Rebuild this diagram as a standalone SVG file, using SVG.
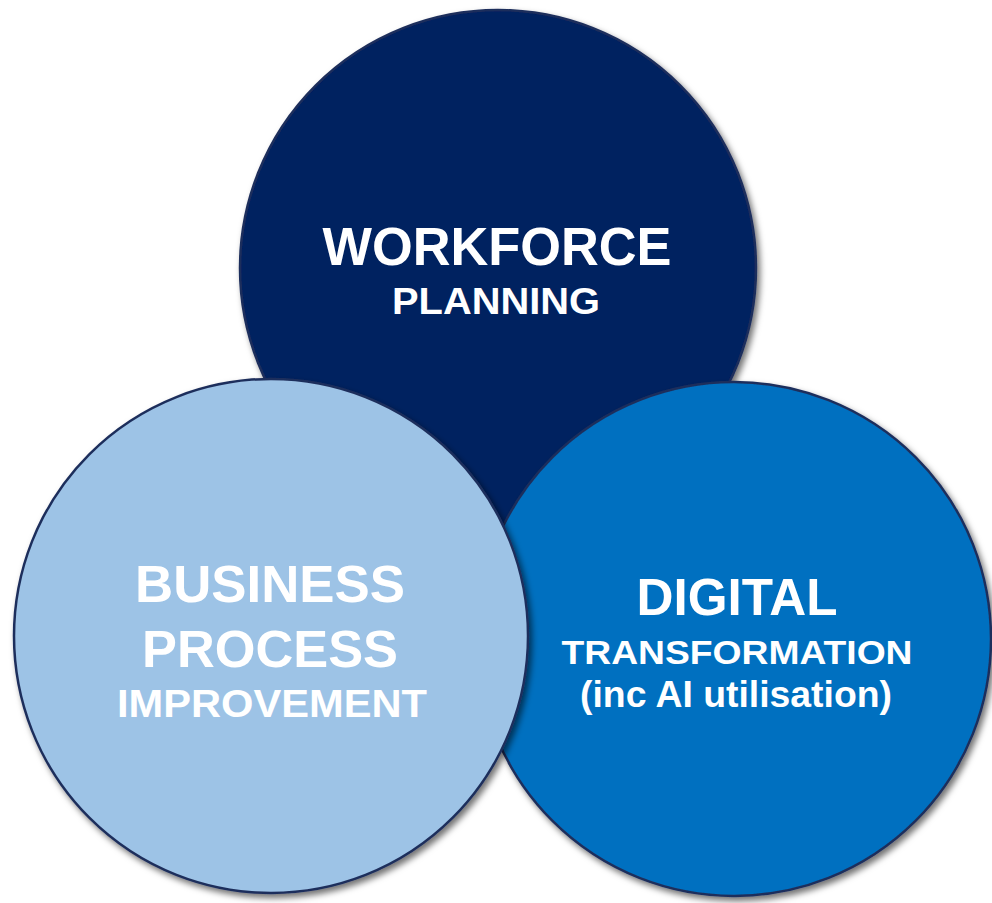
<svg xmlns="http://www.w3.org/2000/svg" width="992" height="903" viewBox="0 0 992 903">
<defs>
<filter id="sh" x="-10%" y="-10%" width="125%" height="125%">
<feDropShadow dx="3" dy="4" stdDeviation="3" flood-color="#000" flood-opacity="0.55"/>
</filter>
</defs>
<style>
.c{stroke:#1F2F5C;stroke-width:2.5;filter:url(#sh)}
.t{font-family:"Liberation Sans",Arial,sans-serif;font-weight:bold;fill:#fff;text-anchor:middle}
</style>
<rect width="992" height="903" fill="#fff"/>
<g id="workforce">
<circle class="c" cx="498" cy="268" r="258" fill="#002060"/>
<text class="t" x="497" y="265" font-size="54" textLength="349" lengthAdjust="spacingAndGlyphs">WORKFORCE</text>
<text class="t" x="496" y="314" font-size="36" textLength="208" lengthAdjust="spacingAndGlyphs">PLANNING</text>
</g>
<g id="digital">
<circle class="c" cx="734" cy="639" r="257" fill="#0070C0"/>
<text class="t" x="737" y="615" font-size="51" textLength="201" lengthAdjust="spacingAndGlyphs">DIGITAL</text>
<text class="t" x="737" y="664" font-size="34" textLength="351" lengthAdjust="spacingAndGlyphs">TRANSFORMATION</text>
<text class="t" x="736" y="707" font-size="37" textLength="312" lengthAdjust="spacingAndGlyphs">(inc AI utilisation)</text>
</g>
<g id="business">
<circle class="c" cx="271" cy="636" r="257" fill="#9DC3E6"/>
<text class="t" x="270" y="602" font-size="51" textLength="270" lengthAdjust="spacingAndGlyphs">BUSINESS</text>
<text class="t" x="270" y="667" font-size="51" textLength="256" lengthAdjust="spacingAndGlyphs">PROCESS</text>
<text class="t" x="272" y="717" font-size="38" textLength="310" lengthAdjust="spacingAndGlyphs">IMPROVEMENT</text>
</g>
<g id="connectors"/>
</svg>
